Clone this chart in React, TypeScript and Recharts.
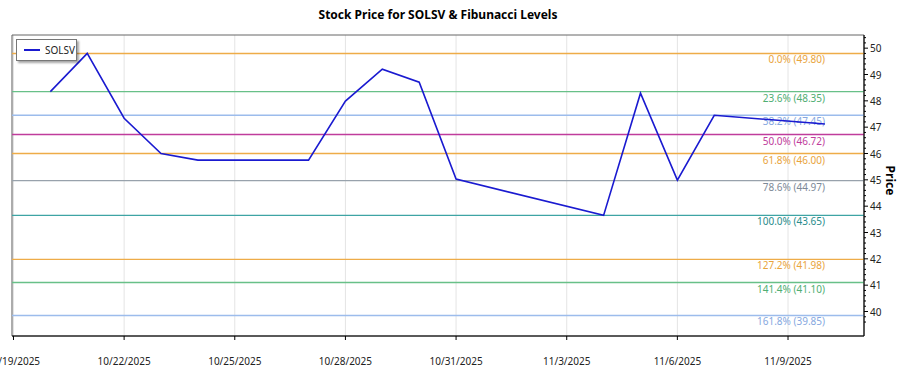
import React from 'react';
import { LineChart, Line, XAxis, YAxis, CartesianGrid, ReferenceLine, ReferenceArea } from 'recharts';

const dates = ['2025-10-20','2025-10-21','2025-10-22','2025-10-23','2025-10-24','2025-10-27','2025-10-28','2025-10-29','2025-10-30','2025-10-31','2025-11-04','2025-11-05','2025-11-06','2025-11-07','2025-11-10'];
const prices = [48.35, 49.80, 47.34, 46.00, 45.75, 45.75, 47.99, 49.20, 48.71, 45.03, 43.65, 48.29, 44.99, 47.45, 47.12];

const xTickDates = ['2025-10-19','2025-10-22','2025-10-25','2025-10-28','2025-10-31','2025-11-03','2025-11-06','2025-11-09'];
const yMajorTicks = [40, 41, 42, 43, 44, 45, 46, 47, 48, 49, 50];

const fibPcts = ['0.0%', '23.6%', '38.2%', '50.0%', '61.8%', '78.6%', '100.0%', '127.2%', '141.4%', '161.8%'];
const fibValues = [49.80, 48.35, 47.45, 46.72, 46.00, 44.97, 43.65, 41.98, 41.10, 39.85];
const fibLineColors = ['#eeac48', '#68c088', '#9cbcec', '#c03c9c', '#eeac48', '#98a2ac', '#3ea4a4', '#eeac48', '#68c088', '#9cbcec'];
const fibTextColors = ['#e9a43c', '#4fae72', '#86a8e0', '#c03c9c', '#e9a43c', '#7d8a98', '#2a8c8c', '#e9a43c', '#4fae72', '#86a8e0'];

const BASE = Date.UTC(2025, 9, 19);
const toDay = (s: string) => {
  const [y, m, d] = s.split('-').map(Number);
  return (Date.UTC(y, m - 1, d) - BASE) / 86400000;
};
const fmt = (day: number) => {
  const dt = new Date(BASE + day * 86400000);
  return `${dt.getUTCMonth() + 1}/${dt.getUTCDate()}/${dt.getUTCFullYear()}`;
};

const data = dates.map((d, i) => ({ x: toDay(d), price: prices[i] }));
const xTicks = xTickDates.map(toDay);
const yMinorTicks: number[] = [];
for (let i = 0; i < yMajorTicks.length; i++) {
  const v = yMajorTicks[i];
  for (let k = -2; k <= 2; k++) yMinorTicks.push(Math.round((v + k * 0.2) * 10) / 10);
}
const yTicks = Array.from(new Set([...yMinorTicks, 50.2, 50.4])).filter(v => v >= 39.1 && v <= 50.5).sort((a, b) => a - b);

const X_DOMAIN: [number, number] = [-0.04, 23.06];
const Y_DOMAIN: [number, number] = [39.07, 50.5];
const FONT = '"Segoe UI", "Noto Sans", "Open Sans", sans-serif';

const XTick = (props: any) => {
  const { x, y, payload } = props;
  return (
    <g>
      <line x1={x} x2={x} y1={y} y2={y + 4} stroke="#000" />
      <text x={x} y={y + 29} textAnchor="middle" fontSize={10} fill="#222" fontFamily={FONT}>{fmt(payload.value)}</text>
    </g>
  );
};

const YTick = (props: any) => {
  const { x, y, payload } = props;
  const v = payload.value;
  const major = Math.abs(v - Math.round(v)) < 0.01;
  return (
    <g>
      <line x1={x} x2={x + (major ? 4 : 2)} y1={y} y2={y} stroke="#000" />
      {major && (
        <text x={x + 6} y={y + 4} textAnchor="start" fontSize={10} fill="#222" fontFamily={FONT}>{v}</text>
      )}
    </g>
  );
};

const makeFibLabel = (text: string, color: string) => (props: any) => {
  const vb = props.viewBox || {};
  return (
    <text x={vb.x + vb.width - 39} y={vb.y + 10} textAnchor="end" fontSize={10} fill={color} fontFamily={FONT}>{text}</text>
  );
};

export default function App() {
  return (
    <div style={{ position: 'absolute', left: 0, top: 0, width: 900, height: 375, background: '#fff' }}>
      <LineChart width={900} height={375} data={data} margin={{ top: 35, right: 0, bottom: 0, left: 12 }}>
        <text x={438} y={19} textAnchor="middle" fontSize={12} fontWeight="bold" fill="#000" fontFamily={FONT}>
          Stock Price for SOLSV &amp; Fibunacci Levels
        </text>
        <CartesianGrid horizontal={false} stroke="#e4e4e4" />
        <XAxis
          dataKey="x"
          type="number"
          domain={X_DOMAIN}
          ticks={xTicks}
          interval={0}
          allowDataOverflow
          height={39}
          tickSize={0}
          tickMargin={0}
          tickLine={false}
          axisLine={{ stroke: '#000' }}
          tick={<XTick />}
        />
        <YAxis
          orientation="right"
          type="number"
          domain={Y_DOMAIN}
          ticks={yTicks}
          interval={0}
          allowDataOverflow
          width={36}
          tickSize={0}
          tickMargin={0}
          tickLine={false}
          axisLine={{ stroke: '#000' }}
          tick={<YTick />}
          label={(p: any) => {
            const vb = p.viewBox || {};
            const cx = 890;
            const cy = vb.y + vb.height / 2 - 5;
            return (
              <text x={cx} y={cy} transform={`rotate(90 ${cx} ${cy})`} textAnchor="middle" dominantBaseline="central" fontSize={12} fontWeight="bold" fill="#000" fontFamily={FONT}>Price</text>
            );
          }}
        />
        <ReferenceArea x1={X_DOMAIN[0]} x2={X_DOMAIN[1]} y1={Y_DOMAIN[0]} y2={Y_DOMAIN[1]} fill="none" stroke="#666" strokeWidth={1} ifOverflow="visible" />
        {fibValues.map((v, i) => (
          <ReferenceLine
            key={i}
            y={v}
            stroke={fibLineColors[i]}
            strokeWidth={1.4}
            label={makeFibLabel(`${fibPcts[i]} (${v.toFixed(2)})`, fibTextColors[i])}
          />
        ))}
        <Line type="linear" dataKey="price" stroke="#1a1ad0" strokeWidth={1.6} dot={false} isAnimationActive={false} />
      </LineChart>
      <div style={{ position: 'absolute', left: 16, top: 39, width: 59, height: 20, background: '#fff', border: '1px solid #777', boxShadow: '2px 2px 2px rgba(0,0,0,0.35)', display: 'flex', alignItems: 'center', fontFamily: FONT, fontSize: 10, color: '#222' }}>
        <div style={{ width: 16, height: 2, background: '#1a1ad0', marginLeft: 7, marginRight: 5 }} />
        <span>SOLSV</span>
      </div>
    </div>
  );
}
